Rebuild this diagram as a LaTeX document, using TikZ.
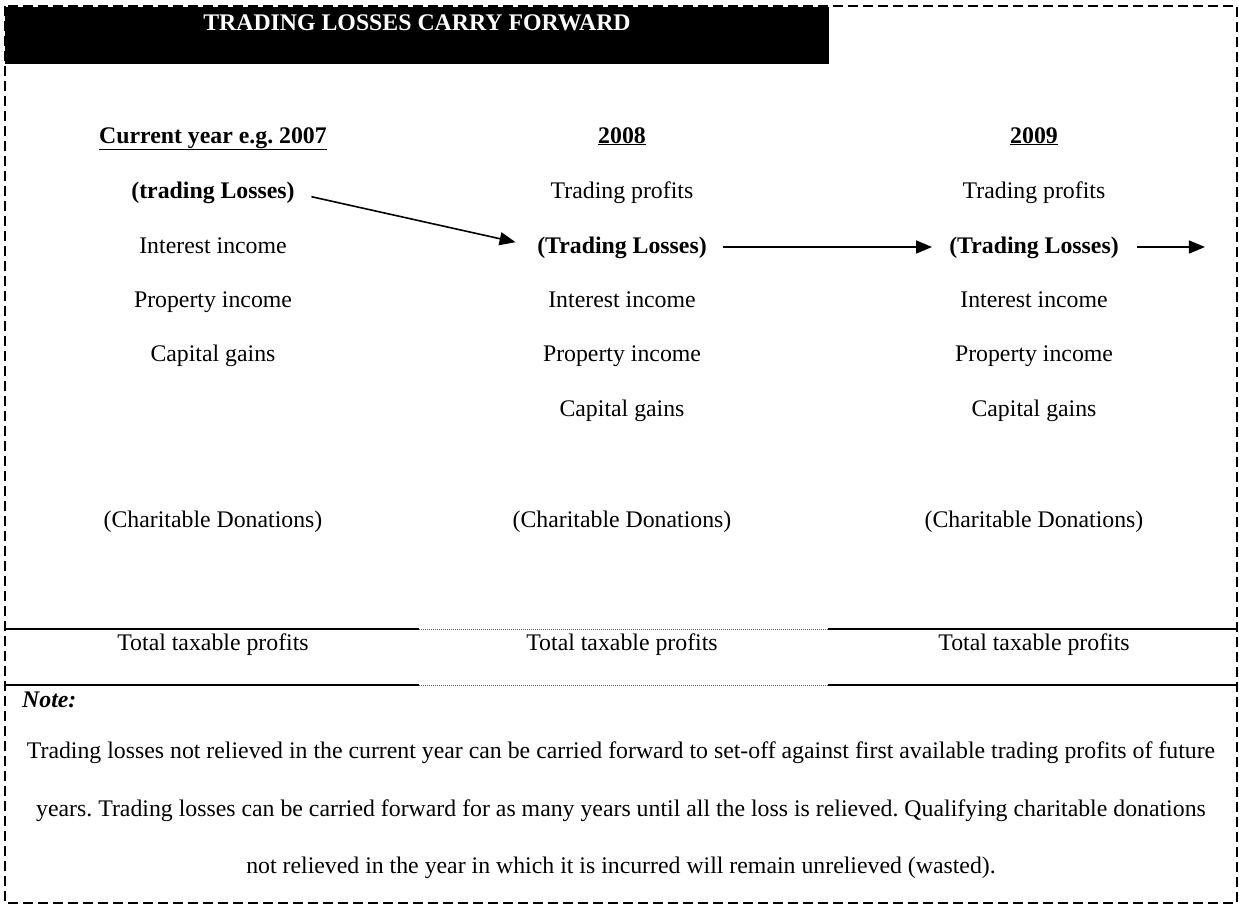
\documentclass[tikz,border=0pt]{standalone}
\usepackage{fontspec}
\setmainfont{Liberation Serif}
\usetikzlibrary{arrows.meta}
\frenchspacing
\begin{document}
\begin{tikzpicture}[x=1pt,y=-1pt,
  txt/.style={anchor=base,inner sep=0pt,font=\fontsize{23.8}{28}\selectfont},
  btxt/.style={anchor=base,inner sep=0pt,font=\fontsize{23.8}{28}\selectfont\bfseries},
  arr/.style={line width=1.6pt,-{Triangle[length=16pt,width=13pt]}},
  rulesolid/.style={line width=2pt},
  ruledot/.style={line width=0.8pt,dash pattern=on 1pt off 1pt,black!60},
  frame/.style={line width=2pt,dash pattern=on 10pt off 5pt},
]
\useasboundingbox (0,0) rectangle (1239,908);
% header bar
\fill[black] (5,7) rectangle (829,64);
\node[btxt,text=white] (title) at (417,30) {TRADING LOSSES CARRY FORWARD};
% frame
\draw[frame] (5,6) rectangle (1237,903);

% column 1
\node[btxt] (h1) at (213,143) {\underline{Current year e.g. 2007}};
\node[btxt] (a1) at (213,198) {(trading Losses)};
\node[txt]  (b1) at (213,253) {Interest income};
\node[txt]  (c1) at (213,307) {Property income};
\node[txt]  (d1) at (213,361) {Capital gains};
\node[txt]  (e1) at (213,527) {(Charitable Donations)};
\node[txt]  (t1) at (213,650) {Total taxable profits};

% column 2
\node[btxt] (h2) at (622,143) {\underline{2008}};
\node[txt]  (a2) at (622,198) {Trading profits};
\node[btxt] (b2) at (622,253) {(Trading Losses)};
\node[txt]  (c2) at (622,307) {Interest income};
\node[txt]  (d2) at (622,361) {Property income};
\node[txt]  (f2) at (622,416) {Capital gains};
\node[txt]  (e2) at (622,527) {(Charitable Donations)};
\node[txt]  (t2) at (622,650) {Total taxable profits};

% column 3
\node[btxt] (h3) at (1034,143) {\underline{2009}};
\node[txt]  (a3) at (1034,198) {Trading profits};
\node[btxt] (b3) at (1034,253) {(Trading Losses)};
\node[txt]  (c3) at (1034,307) {Interest income};
\node[txt]  (d3) at (1034,361) {Property income};
\node[txt]  (f3) at (1034,416) {Capital gains};
\node[txt]  (e3) at (1034,527) {(Charitable Donations)};
\node[txt]  (t3) at (1034,650) {Total taxable profits};

% arrows
\coordinate (a1e) at ([yshift=5pt]a1.base east);
\coordinate (b2w) at ([yshift=6pt]b2.base west);
\coordinate (b2e) at ([yshift=6pt]b2.base east);
\coordinate (b3w) at ([yshift=6pt]b3.base west);
\coordinate (b3e) at ([yshift=6pt]b3.base east);
\coordinate (fwd) at ([xshift=86pt]b3e);
\draw[arr,shorten <=17pt,shorten >=22pt] (a1e) -- (b2w);
\draw[arr,shorten <=16pt,shorten >=17pt] (b2e) -- (b3w);
\draw[arr,shorten <=18pt] (b3e) -- (fwd);

% total lines
\draw[rulesolid] (5,629) -- (419,629);
\draw[ruledot] (419,629) -- (828,629);
\draw[rulesolid] (828,629) -- (1237,629);
\draw[rulesolid] (5,685) -- (419,685);
\draw[ruledot] (419,685) -- (828,685);
\draw[rulesolid] (828,685) -- (1237,685);

% note
\node[anchor=base west,inner sep=0pt,font=\fontsize{23.8}{28}\selectfont\bfseries\itshape] (note) at (22,707) {Note:};
\node[txt] (p1) at (621,758) {Trading losses not relieved in the current year can be carried forward to set-off against first available trading profits of future};
\node[txt] (p2) at (621,816) {years. Trading losses can be carried forward for as many years until all the loss is relieved. Qualifying charitable donations};
\node[txt] (p3) at (621,873) {not relieved in the year in which it is incurred will remain unrelieved (wasted).};
\end{tikzpicture}
\end{document}
